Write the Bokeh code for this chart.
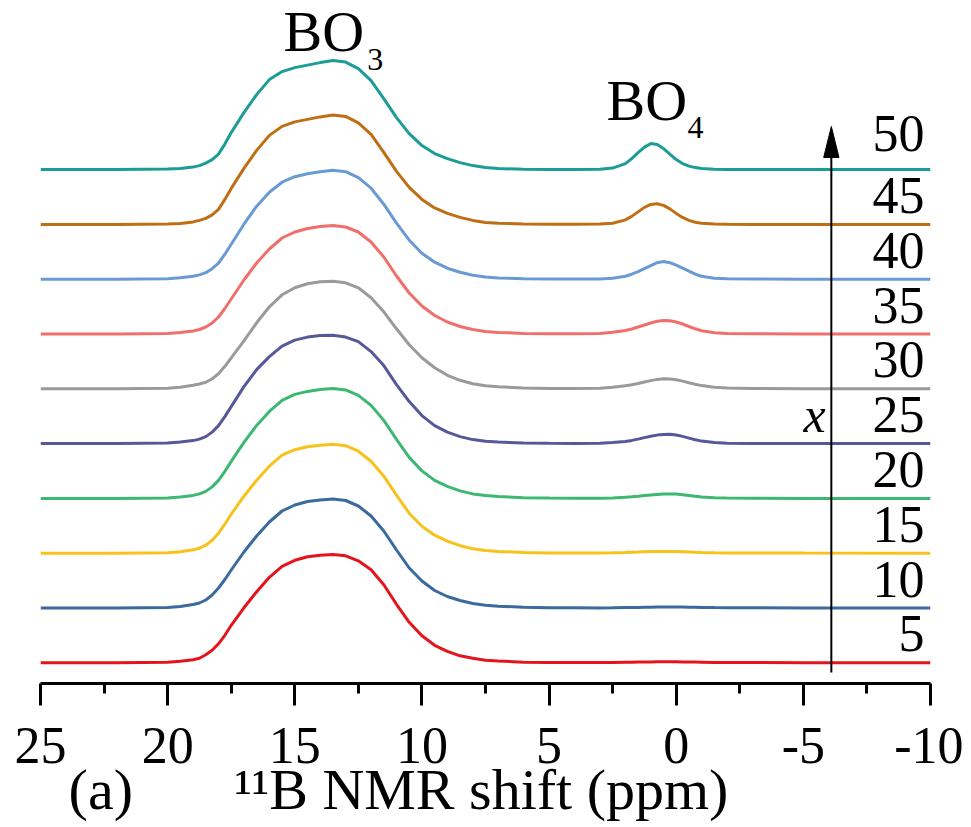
from bokeh.plotting import figure
from bokeh.models import Range1d, FixedTicker, Label
from bokeh.embed import file_html
from bokeh.resources import INLINE

# ---------------- data ----------------
# chemical-shift grid, ppm (BO3 region and BO4 region)
ppm_bo3 = [25, 22, 20, 19.5, 19, 18.75, 18.5, 18.25, 18, 17.75, 17.5, 17, 16.5, 16, 15.5,
           15, 14.5, 14, 13.5, 13, 12.5, 12, 11.5, 11, 10.5, 10, 9.5, 9, 8.5, 8,
           7.5, 7, 6, 5, 4]
ppm_bo4 = [3, 2.5, 2, 1.75, 1.5, 1.25, 1, 0.75, 0.5, 0.25, 0, -0.25, -0.5, -0.75,
           -1, -1.5, -2, -3, -5, -10]

x_content = [5, 10, 15, 20, 25, 30, 35, 40, 45, 50]
series_labels = ["5", "10", "15", "20", "25", "30", "35", "40", "45", "50"]

# intensities (arbitrary units) in the BO3 region
bo3_05 = [0, 0, 0.5, 1.5, 3, 4.5, 8, 12.5, 19, 27.5, 37.5, 55, 71, 85.5, 96.5, 102.5, 106, 107.6, 108.4, 107, 102, 93, 78, 58.5, 40.5, 27, 17.5, 11.5, 7, 4.5, 2.5, 1.7, 0.6, 0.3, 0.2]
bo3_10 = [0, 0, 0.5, 1.5, 3.5, 5, 8, 13, 20, 28.5, 38, 56, 72, 86, 97, 103, 106.5, 108, 109, 107.5, 102, 92, 77, 58, 40, 27, 17.5, 11.5, 7.5, 4.5, 2.8, 1.8, 0.7, 0.3, 0.2]
bo3_15 = [0, 0, 0.5, 1.5, 3.5, 5, 8, 13, 20, 29, 39, 57, 73, 87, 98, 103.5, 106.5, 108, 109, 107.5, 102, 92, 77, 58, 40, 27, 18, 12, 7.5, 4.5, 2.8, 1.8, 0.7, 0.3, 0.2]
bo3_20 = [0, 0, 0.5, 1.5, 3, 4.5, 7, 11.5, 18, 27, 37, 56, 73, 87, 98, 104, 107, 109, 110, 108.5, 103, 93, 78, 59, 41, 27.5, 18, 12, 7.5, 4.5, 2.8, 1.8, 0.7, 0.3, 0.2]
bo3_25 = [0, 0, 0.5, 1.5, 3, 4.5, 7, 11.5, 18, 27, 37, 57, 74, 87, 97.5, 103.5, 106.5, 108, 108.4, 106.5, 102, 92, 78, 59, 42, 28, 18, 11.5, 7, 4, 2.3, 1.5, 0.5, 0.3, 0.2]
bo3_30 = [0, 0, 0.5, 1.5, 3.5, 4.8, 6.5, 10, 15, 22.5, 31, 48, 66, 82, 94, 101, 105, 107, 107.5, 106, 101, 91, 77, 60, 44, 31, 21, 13.5, 8.5, 5, 3, 2, 0.8, 0.4, 0.3]
bo3_35 = [0, 0, 0.5, 1.5, 3, 4.5, 7, 11, 17, 25.5, 35, 54, 71, 85, 96, 102, 105.5, 107.5, 108.5, 107, 102, 92, 77, 58, 41, 28, 18.5, 12, 7.5, 4.5, 2.6, 1.6, 0.6, 0.3, 0.2]
bo3_40 = [0, 0, 0.5, 1.5, 3, 4.3, 6.5, 10.5, 16, 25, 35, 55, 73, 87, 97, 102.5, 105.5, 107.5, 109, 107.5, 101.5, 91, 75, 56, 39, 26, 17, 11, 7, 4, 2.3, 1.3, 0.5, 0.3, 0.2]
bo3_45 = [0, 0, 0.5, 1, 2.5, 4, 6, 9.5, 15, 25, 36, 56, 74, 89, 98, 102.5, 105, 107.5, 109.5, 108, 101.5, 90, 72, 53, 37, 25, 16.5, 11, 7, 4, 2, 1.2, 0.4, 0.2, 0.1]
bo3_50 = [0, 0, 0.5, 1, 2.5, 4, 6.5, 10, 15.5, 25.5, 37, 57, 75, 90, 98, 102, 104.5, 107, 109, 107.5, 101, 89, 71, 52, 36, 24, 16, 11, 7, 4, 2, 1, 0.3, 0.1, 0.1]

# intensities in the BO4 region
bo4_05 = [0.2, 0.3, 0.5, 0.6, 0.7, 0.8, 0.9, 1, 1, 1, 1, 0.9, 0.8, 0.7, 0.6, 0.4, 0.3, 0.2, 0.1, 0]
bo4_10 = [0.1, 0.2, 0.4, 0.5, 0.6, 0.7, 0.8, 0.9, 1, 1, 1, 0.9, 0.8, 0.7, 0.6, 0.4, 0.3, 0.2, 0.1, 0]
bo4_15 = [0.2, 0.4, 0.7, 0.9, 1.1, 1.4, 1.6, 1.7, 1.8, 1.8, 1.7, 1.5, 1.3, 1, 0.8, 0.5, 0.3, 0.2, 0.1, 0]
bo4_20 = [0.2, 0.5, 1.1, 1.6, 2.2, 2.9, 3.5, 4, 4.4, 4.5, 4.3, 3.7, 3, 2.2, 1.5, 0.6, 0.3, 0.1, 0, 0]
bo4_25 = [0.3, 1, 2.2, 3.2, 4.5, 6, 7.3, 8.5, 9.2, 9.3, 8.6, 7.2, 5.5, 3.8, 2.5, 1, 0.4, 0.1, 0, 0]
bo4_30 = [0.5, 1.5, 3, 4, 5.3, 6.8, 8.2, 9.4, 10, 9.8, 9, 7.7, 6, 4.5, 3.2, 1.5, 0.8, 0.3, 0, 0]
bo4_35 = [0.5, 1.8, 3.5, 5, 7, 9, 11, 12.7, 13.4, 13.2, 12, 10, 7.5, 5.2, 3.3, 1.2, 0.5, 0.2, 0, 0]
bo4_40 = [0.3, 1, 3, 5, 7.5, 10.5, 13.5, 16.5, 17.6, 16.5, 14, 11, 8, 5, 3, 1, 0.4, 0.1, 0, 0]
bo4_45 = [0.3, 1.2, 4.5, 8, 12.5, 17, 20, 20.6, 19, 15.5, 11, 7, 4, 2.2, 1.2, 0.4, 0.2, 0, 0, 0]
bo4_50 = [0.3, 1.5, 6, 11, 17, 22.5, 26, 25, 21, 15.5, 10, 6, 3.5, 2, 1, 0.4, 0.2, 0, 0, 0]

bo3_all = [bo3_05, bo3_10, bo3_15, bo3_20, bo3_25, bo3_30, bo3_35, bo3_40, bo3_45, bo3_50]
bo4_all = [bo4_05, bo4_10, bo4_15, bo4_20, bo4_25, bo4_30, bo4_35, bo4_40, bo4_45, bo4_50]

colors = ["#E5141C", "#3A6A9E", "#F7C21B", "#3DB873", "#57589A",
          "#9A9A9A", "#EF6F6C", "#6A9AD4", "#C06E14", "#1C9C96"]

major_ticks = [25, 20, 15, 10, 5, 0, -5, -10]
minor_ticks = [22.5, 17.5, 12.5, 7.5, 2.5, -2.5, -7.5]
tick_text = {-5: "-5", -10: "-10"}

# ---------------- layout constants ----------------
BASE0 = 20.7      # first trace baseline (y units = px above axis)
STEP = 54.8       # vertical offset between traces
LABEL_LIFT = [29, 29, 29, 29, 29, 29, 29, 29, 29, 36]
SERIF = "Liberation Serif"
NB = "\u00a0"

p = figure(frame_width=890, frame_height=675,
           x_range=Range1d(25, -10), y_range=Range1d(0, 675),
           output_backend="svg", toolbar_location=None,
           y_axis_location=None,
           min_border_left=40, min_border_right=33,
           min_border_top=8, min_border_bottom=0)

p.outline_line_color = None
p.xgrid.visible = False
p.ygrid.visible = False
p.background_fill_color = "white"
p.border_fill_color = "white"

ppm_all = ppm_bo3 + ppm_bo4
for k in range(len(x_content)):
    ys = [v + BASE0 + STEP * k for v in (bo3_all[k] + bo4_all[k])]
    p.line(ppm_all, ys, line_color=colors[k], line_width=3)
    p.add_layout(Label(x=-9.76, y=BASE0 + STEP * k + LABEL_LIFT[k],
                       text=series_labels[k], text_align="right",
                       text_baseline="alphabetic", text_font=SERIF,
                       text_font_size="52px", text_color="black"))

# x axis
ax = p.xaxis[0]
ax.ticker = FixedTicker(ticks=major_ticks, minor_ticks=minor_ticks)
ax.major_label_overrides = tick_text
ax.axis_line_width = 3
ax.axis_line_color = "black"
ax.major_tick_line_width = 3
ax.minor_tick_line_width = 3
ax.major_tick_in = 0
ax.major_tick_out = 22
ax.minor_tick_in = 0
ax.minor_tick_out = 10
ax.major_label_text_font = SERIF
ax.major_label_text_font_size = "52px"
ax.major_label_text_color = "black"
ax.major_label_standoff = 22
ax.axis_label = "(a)" + NB * 7 + "\u00b9\u00b9B NMR shift (ppm)" + NB * 12
ax.axis_label_text_font = SERIF
ax.axis_label_text_font_size = "58px"
ax.axis_label_text_font_style = "normal"
ax.axis_label_text_color = "black"
ax.axis_label_standoff = -9

# arrow (increasing x)
ARROW_X = -6.1
p.segment(x0=[ARROW_X], y0=[11], x1=[ARROW_X], y1=[530], line_color="black", line_width=2)
p.patch([ARROW_X + 0.3, ARROW_X, ARROW_X - 0.3], [526, 557, 526],
        fill_color="black", line_color="black", line_width=1)

def lab(x, y, text, size, align="left", style="normal"):
    p.add_layout(Label(x=x, y=y, text=text, text_align=align,
                       text_baseline="alphabetic", text_font=SERIF,
                       text_font_size=size, text_font_style=style,
                       text_color="black"))

# peak labels
lab(15.44, 652, "BO", "58px")
lab(12.15, 624, "3", "32px")
lab(2.74, 583, "BO", "58px")
lab(-0.44, 556.5, "4", "32px")
# composition label
lab(-5.88, 269, "x", "50px", align="right", style="italic")

open("out.html", "w").write(file_html(p, INLINE))
